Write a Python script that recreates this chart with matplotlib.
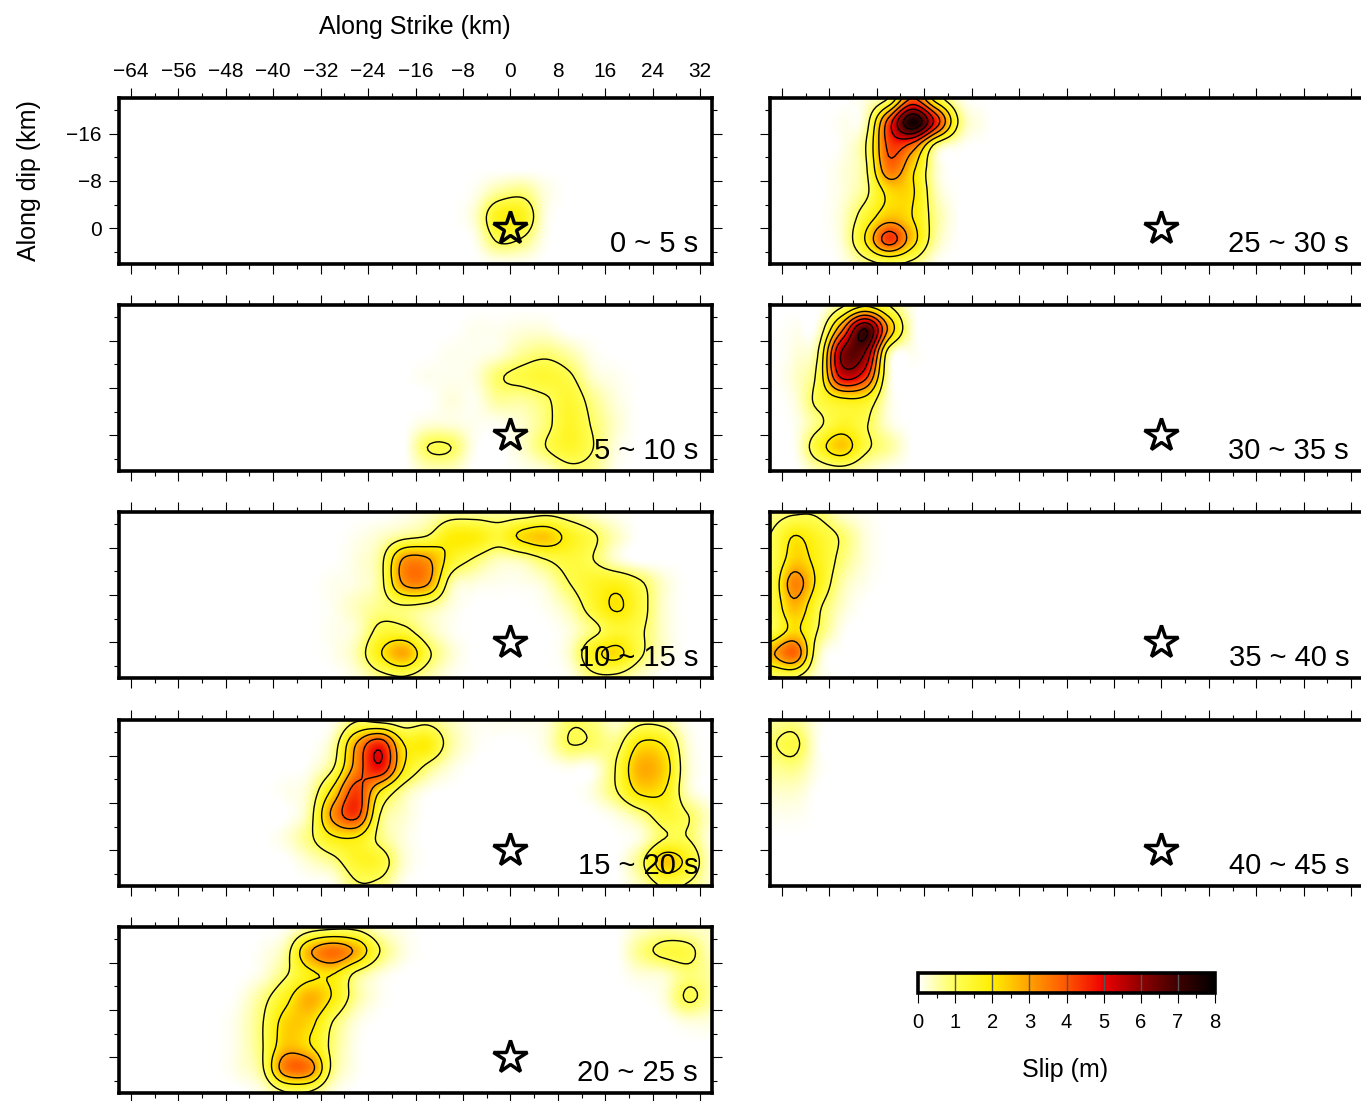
import numpy as np
import matplotlib
matplotlib.use('Agg')
import matplotlib.pyplot as plt
from matplotlib.colors import LinearSegmentedColormap, Normalize
from matplotlib.cm import ScalarMappable

plt.rcParams['font.family'] = ['Liberation Sans', 'DejaVu Sans']

W, H = 1361, 1101

# slip read at the nodes, in 0.1 m. columns x = -66, -62 ... 34, rows y = -22, -18 ... 6
slip_0_5 = [
 [0]*26, [0]*26, [0]*26, [0]*26,
 [0,0,0,0,0, 0,0,0,0,0, 0,0,0,0,0, 1,6,8,2,0, 0,0,0,0,0, 0],
 [0,0,0,0,0, 0,0,0,0,0, 0,0,0,0,0, 3,17,17,2,0, 0,0,0,0,0, 0],
 [0,0,0,0,0, 0,0,0,0,0, 0,0,0,0,0, 1,11,9,1,0, 0,0,0,0,0, 0],
 [0,0,0,0,0, 0,0,0,0,0, 0,0,0,0,0, 0,1,1,0,0, 0,0,0,0,0, 0],
]
slip_5_10 = [
 [0]*26,
 [0,0,0,0,0, 0,0,0,0,0, 0,0,0,0,0, 1,1,2,2,0, 0,0,0,0,0, 0],
 [0,0,0,0,0, 0,0,0,0,0, 0,0,0,0,1, 1,2,6,8,5, 1,0,0,0,0, 0],
 [0,0,0,0,0, 0,0,0,0,0, 0,0,0,1,1, 2,9,12,14,11, 3,1,0,0,0, 0],
 [0,0,0,0,0, 0,0,0,0,0, 0,0,0,0,2, 1,6,6,9,14, 7,2,0,0,0, 0],
 [0,0,0,0,0, 0,0,0,0,0, 0,0,0,2,2, 1,1,3,8,15, 9,3,0,0,0, 0],
 [0,0,0,0,0, 0,0,0,0,0, 0,0,0,10,10, 1,0,3,10,15, 10,2,0,0,0, 0],
 [0,0,0,0,0, 0,0,0,0,0, 0,0,0,4,4, 0,0,1,3,8, 7,1,0,0,0, 0],
]
slip_10_15 = [
 [0,0,0,0,0, 0,0,0,0,0, 0,0,1,3,6, 6,6,6,8,6, 3,1,0,0,0, 0],
 [0,0,0,0,0, 0,0,0,0,0, 1,3,7,10,19, 19,14,22,25,17, 11,4,0,0,0, 0],
 [0,0,0,0,0, 0,0,0,0,0, 2,7,31,31,16, 9,4,5,10,13, 10,3,0,0,0, 0],
 [0,0,0,0,0, 0,0,0,0,1, 2,7,31,31,6, 2,1,1,3,10, 15,17,11,3,0, 0],
 [0,0,0,0,0, 0,0,0,0,1, 4,7,9,7,2, 0,0,0,1,5, 14,21,13,3,0, 0],
 [0,0,0,0,0, 0,0,0,0,1, 3,12,12,5,1, 0,0,0,0,2, 8,14,11,3,0, 0],
 [0,0,0,0,0, 0,0,0,0,1, 5,19,29,12,3, 0,0,0,0,3, 17,22,11,3,0, 0],
 [0,0,0,0,0, 0,0,0,0,0, 2,7,9,5,1, 0,0,0,0,1, 8,8,3,0,0, 0],
]
slip_15_20 = [
 [0,0,0,0,0, 0,0,0,0,1, 9,7,6,8,4, 1,1,1,2,9, 8,3,8,7,1, 0],
 [0,0,0,0,0, 0,0,0,0,5, 30,46,20,19,6, 1,0,0,2,10, 9,8,21,19,3, 0],
 [0,0,0,0,0, 0,0,0,1,9, 34,48,20,8,2, 0,0,0,0,1, 1,11,28,24,4, 0],
 [0,0,0,0,0, 0,0,1,4,22, 43,20,6,1,0, 0,0,0,0,0, 2,10,22,20,4, 0],
 [0,0,0,0,0, 0,0,0,6,32, 43,10,3,0,0, 0,0,0,0,0, 0,2,7,14,10, 3],
 [0,0,0,0,0, 0,0,2,8,18, 19,8,2,0,0, 0,0,0,0,0, 0,0,2,10,10, 2],
 [0,0,0,0,0, 0,0,0,3,7, 15,14,3,0,0, 0,0,0,0,0, 0,0,8,25,17, 3],
 [0,0,0,0,0, 0,0,0,0,1, 9,8,1,0,0, 0,0,0,0,0, 0,0,4,11,9, 3],
]
slip_20_25 = [
 [0,0,0,0,0, 0,0,1,6,8, 8,3,1,0,0, 0,0,0,0,0, 0,0,3,5,4, 3],
 [0,0,0,0,0, 0,1,6,28,37, 28,10,2,0,0, 0,0,0,0,0, 0,0,7,12,12, 4],
 [0,0,0,0,0, 0,2,9,18,20, 8,2,0,0,0, 0,0,0,0,0, 0,0,2,3,8, 6],
 [0,0,0,0,0, 1,7,17,28,19, 6,1,0,0,0, 0,0,0,0,0, 0,0,0,2,11, 6],
 [0,0,0,0,0, 2,9,23,23,10, 2,0,0,0,0, 0,0,0,0,0, 0,0,0,0,2, 2],
 [0,0,0,0,0, 2,9,25,21,8, 1,0,0,0,0, 0,0,0,0,0, 0,0,0,0,0, 0],
 [0,0,0,0,0, 2,8,35,35,8, 1,0,0,0,0, 0,0,0,0,0, 0,0,0,0,0, 0],
 [0,0,0,0,0, 0,2,9,9,2, 0,0,0,0,0, 0,0,0,0,0, 0,0,0,0,0, 0],
]
# right column, only the first columns carry slip
slip_25_30 = [
 [0,0,0,0,2, 10,40,15,2,0],
 [0,0,0,1,5, 44,78,46,8,1],
 [0,0,0,1,9, 42,36,7,1,0],
 [0,0,0,2,8, 36,22,3,0,0],
 [0,0,0,2,8, 22,21,4,0,0],
 [0,0,0,3,14, 25,20,6,0,0],
 [0,0,0,3,20, 44,24,5,0,0],
 [0,0,0,1,7, 10,8,1,0,0],
]
slip_30_35 = [
 [0,0,0,8,18, 10,1,0,0,0],
 [0,1,3,36,70, 28,2,0,0,0],
 [0,2,9,60,60, 6,1,0,0,0],
 [0,3,12,52,44, 3,0,0,0,0],
 [0,2,12,18,17, 2,0,0,0,0],
 [0,1,8,15,11, 2,0,0,0,0],
 [0,1,15,25,12, 6,0,0,0,0],
 [0,0,5,7,4, 1,0,0,0,0],
]
slip_35_40 = [
 [7,9,9,3,1],
 [10,20,15,9,2],
 [10,24,17,8,2],
 [11,34,18,5,1],
 [11,27,12,3,0],
 [11,22,10,1,0],
 [28,38,5,0,0],
 [9,10,2,0,0],
]
slip_40_45 = [
 [6,7,1,0,0],
 [9,12,1,0,0],
 [6,7,1,0,0],
 [3,3,0,0,0],
 [1,1,0,0,0],
 [0,0,0,0,0],
 [0,0,0,0,0],
 [0,0,0,0,0],
]

left_labels = ['0 ~ 5 s', '5 ~ 10 s', '10 ~ 15 s', '15 ~ 20 s', '20 ~ 25 s']
right_labels = ['25 ~ 30 s', '30 ~ 35 s', '35 ~ 40 s', '40 ~ 45 s']
left_slip = [slip_0_5, slip_5_10, slip_10_15, slip_15_20, slip_20_25]
right_slip = [slip_25_30, slip_30_35, slip_35_40, slip_40_45]
row_tops = [98, 305, 512, 720, 927]

strike_ticks = list(range(-64, 33, 8))
strike_minor = list(range(-60, 33, 8))
dip_ticks = [-16, -8, 0]
dip_minor = [-20, -12, -4, 4]
bar_ticks = list(range(9))
levels = [1, 2, 3, 4, 5, 6, 7]

colors = ['#ffffff', '#ffff55', '#ffee00', '#ffa000', '#ff5500',
          '#ee0000', '#8f0000', '#3f0000', '#000000']
cmap = LinearSegmentedColormap.from_list('slip', colors, N=512)
norm = Normalize(0, 8)

N = 8
t = np.arange(N) / N
w = np.array([-.5*t + t*t - .5*t**3, 1 - 2.5*t*t + 1.5*t**3,
              .5*t + 2*t*t - 1.5*t**3, -.5*t*t + .5*t**3])


def refine(z):
    # cubic through the nodes, along the first axis
    p = np.pad(z, ((1, 2), (0, 0)), mode='edge')
    rows = []
    for i in range(len(z) - 1):
        for j in range(N):
            rows.append(sum(w[k, j] * p[i + k] for k in range(4)))
    rows.append(z[-1])
    return np.array(rows)


def panel(x0, top, table, label, first=False):
    ax = fig.add_axes([x0 / W, 1 - (top + 166) / H, 593 / W, 166 / H])
    z = np.zeros((8, 26))
    tab = np.array(table) / 10.0
    z[:tab.shape[0], :tab.shape[1]] = tab
    z = np.clip(refine(refine(z).T).T, 0, None)
    x = np.linspace(-66, 34, z.shape[1])
    y = np.linspace(-22, 6, z.shape[0])
    ax.imshow(z, extent=[-66, 34, 6, -22], cmap=cmap, norm=norm, aspect='auto',
              interpolation='bilinear', origin='upper')
    ax.contour(x, y, z, levels=levels, colors='k', linewidths=1.0)
    ax.plot(0, 0, marker='*', ms=25, mfc='none', mec='k', mew=2.5)
    ax.set_xlim(-66, 34)
    ax.set_ylim(6, -22)
    ax.set_xticks(strike_ticks)
    ax.set_xticks(strike_minor, minor=True)
    ax.set_yticks(dip_ticks)
    ax.set_yticks(dip_minor, minor=True)
    ax.tick_params(which='major', direction='out', length=7.5, width=.8, top=True, right=True,
                   labelbottom=False, labeltop=first, labelleft=first, labelsize=15, pad=5)
    ax.tick_params(which='minor', direction='out', length=3.8, width=.8, top=True, right=True)
    for s in ax.spines.values():
        s.set_linewidth(2.6)
    ax.text(579 / 593, 6 / 166, label, transform=ax.transAxes, ha='right', va='bottom',
            fontsize=21)
    return ax


fig = plt.figure(figsize=(W / 100, H / 100), dpi=100)

for i in range(5):
    panel(119, row_tops[i], left_slip[i], left_labels[i], first=(i == 0))
for i in range(4):
    panel(770, row_tops[i], right_slip[i], right_labels[i])

fig.text(415 / W, 1 - 27 / H, 'Along Strike (km)', ha='center', va='center', fontsize=18)
fig.text(29 / W, 1 - 181 / H, 'Along dip (km)', ha='center', va='center', rotation=90, fontsize=18)

cax = fig.add_axes([918 / W, 1 - 993 / H, 297 / W, 20 / H])
cb = fig.colorbar(ScalarMappable(norm=norm, cmap=cmap), cax=cax, orientation='horizontal',
                  ticks=bar_ticks)
cax.set_xticks(bar_ticks)
cax.set_xticks(np.arange(.5, 8, 1), minor=True)
cax.tick_params(which='major', direction='out', length=7.5, width=.8, labelsize=14.5, pad=7)
cax.tick_params(which='minor', direction='out', length=3.8, width=.8)
cax.vlines(bar_ticks[1:-1], 0, 1, transform=cax.get_xaxis_transform(), colors='#555555', lw=1)
cb.outline.set_linewidth(2.6)
fig.text(1065 / W, 1 - 1070 / H, 'Slip (m)', ha='center', va='center', fontsize=18)

plt.savefig('out.png', dpi=100)
